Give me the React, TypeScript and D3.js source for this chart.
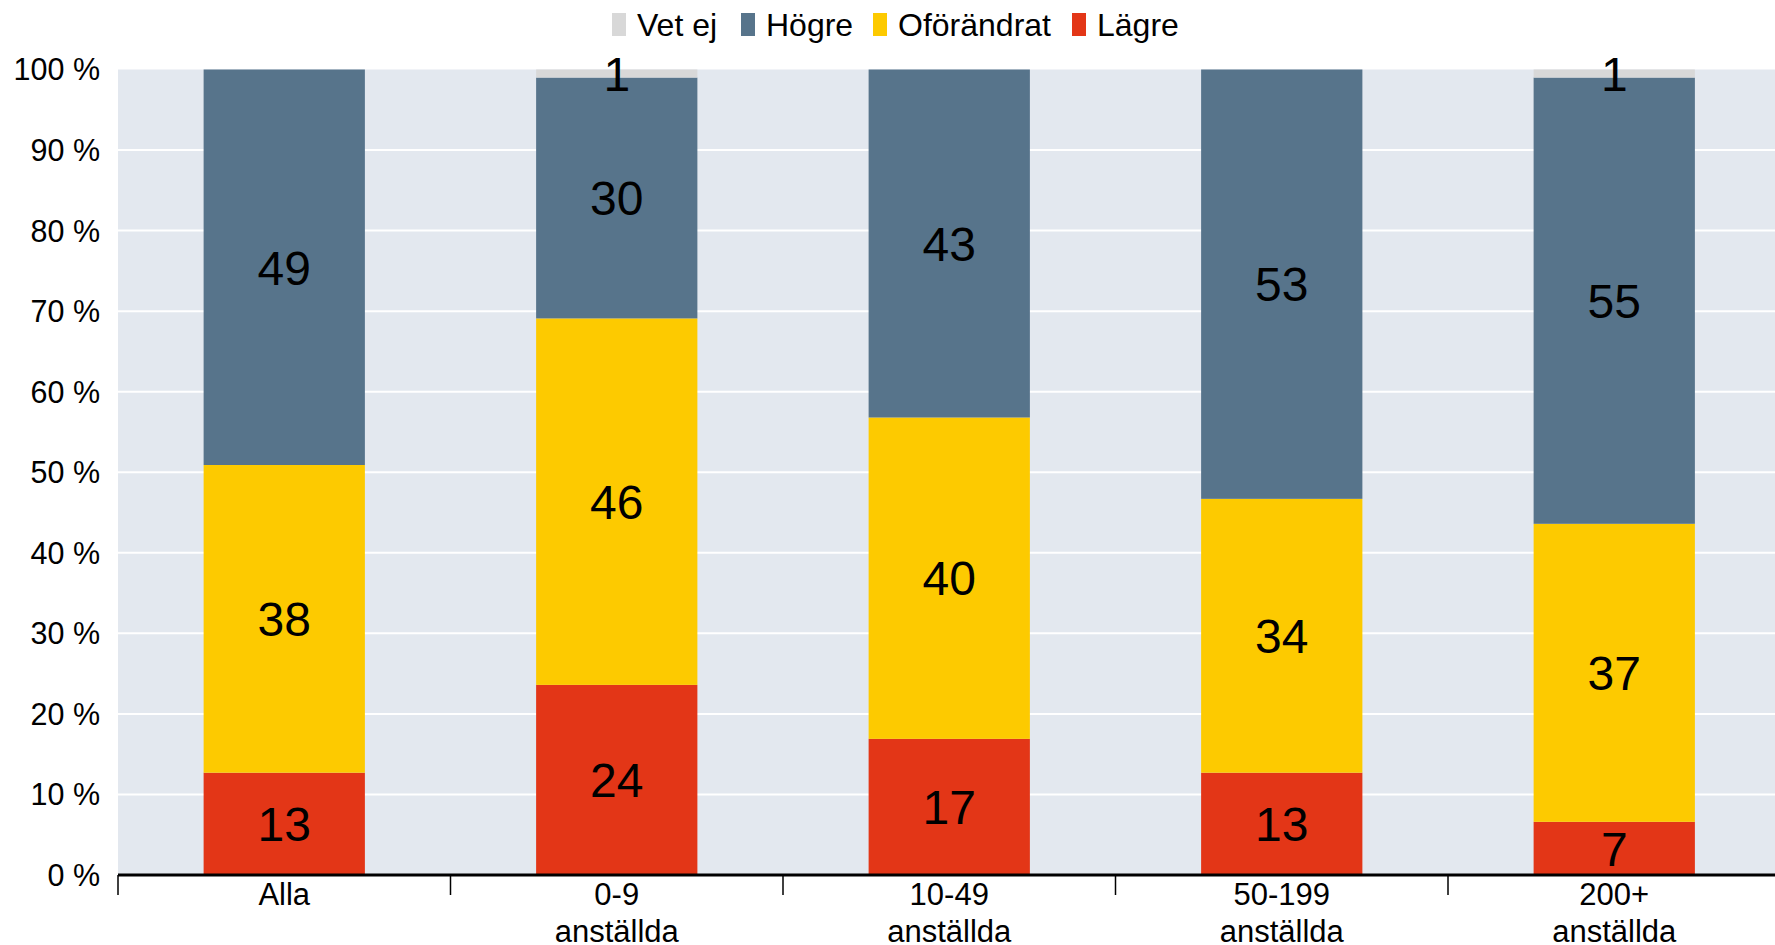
import React from "react";
import * as d3 from "d3";

const categories = ["Alla", "0-9 anställda", "10-49 anställda", "50-199 anställda", "200+ anställda"];
const seriesNames = ["Lägre", "Oförändrat", "Högre", "Vet ej"];
const lagre = [12.7, 23.6, 16.9, 12.7, 6.6];
const oforandrat = [38.2, 45.5, 39.9, 34.0, 37.0];
const hogre = [49.1, 29.9, 43.2, 53.3, 55.4];
const vetEj = [0, 1.0, 0, 0, 1.0];
const labelLagre = [13, 24, 17, 13, 7];
const labelOforandrat = [38, 46, 40, 34, 37];
const labelHogre = [49, 30, 43, 53, 55];
const labelVetEj = [null, 1, null, null, 1];
const yTicks = [0, 10, 20, 30, 40, 50, 60, 70, 80, 90, 100];
const legendOrder = ["Vet ej", "Högre", "Oförändrat", "Lägre"];

const colors: Record<string, string> = {
  "Vet ej": "#d8d8d8",
  "Högre": "#57748b",
  "Oförändrat": "#fdca00",
  "Lägre": "#e33617",
};

const W = 1775;
const H = 945;
const left = 118;
const top = 69.5;
const bottom = 875;
const step = 332.5;
const font = "'Liberation Sans', Arial, sans-serif";

export default function App() {
  const x = d3
    .scaleBand<string>()
    .domain(categories)
    .range([left, left + step * categories.length])
    .paddingInner(0)
    .paddingOuter(0);
  const y = d3.scaleLinear().domain([0, 100]).range([bottom, top]);
  const barW = x.bandwidth() * 0.485;

  const rows = categories.map((c, i) => ({
    cat: c,
    "Lägre": lagre[i],
    "Oförändrat": oforandrat[i],
    "Högre": hogre[i],
    "Vet ej": vetEj[i],
  }));
  const labels: Record<string, (number | null)[]> = {
    "Lägre": labelLagre,
    "Oförändrat": labelOforandrat,
    "Högre": labelHogre,
    "Vet ej": labelVetEj,
  };
  const stacked = d3.stack<any>().keys(seriesNames)(rows);

  const legendX = [612, 741, 873, 1072];

  return (
    <svg
      width={W}
      height={H}
      style={{ position: "absolute", left: 0, top: 0, background: "#fff" }}
      fontFamily={font}
    >
      <rect x={left} y={top} width={W - left} height={bottom - top} fill="#e3e8ef" />
      {yTicks
        .filter((t) => t > 0 && t < 100)
        .map((t) => (
          <line key={t} x1={left} x2={W} y1={y(t)} y2={y(t)} stroke="#fff" strokeWidth={2} />
        ))}
      {stacked.map((s) =>
        s.map((d, i) => {
          const cx = (x(categories[i]) as number) + x.bandwidth() / 2;
          const h = y(d[0]) - y(d[1]);
          if (h <= 0) return null;
          return (
            <rect
              key={s.key + i}
              x={cx - barW / 2}
              y={y(d[1])}
              width={barW}
              height={h}
              fill={colors[s.key]}
            />
          );
        })
      )}
      {stacked.map((s) =>
        s.map((d, i) => {
          const lab = labels[s.key][i];
          if (lab == null) return null;
          const cx = (x(categories[i]) as number) + x.bandwidth() / 2;
          const cy = (y(d[0]) + y(d[1])) / 2;
          return (
            <text
              key={"l" + s.key + i}
              x={cx}
              y={cy}
              dy="0.36em"
              textAnchor="middle"
              fontSize={48}
              fill="#000"
            >
              {lab}
            </text>
          );
        })
      )}
      {yTicks.map((t) => (
        <text key={"y" + t} x={100} y={y(t)} dy="0.36em" textAnchor="end" fontSize={30.5} fill="#000">
          {t} %
        </text>
      ))}
      <line x1={left} x2={W} y1={bottom} y2={bottom} stroke="#000" strokeWidth={3} />
      {categories.map((c, i) => (
        <line
          key={"t" + i}
          x1={(x(c) as number)}
          x2={(x(c) as number)}
          y1={bottom}
          y2={895}
          stroke="#000"
          strokeWidth={1.5}
        />
      ))}
      {categories.map((c) => {
        const cx = (x(c) as number) + x.bandwidth() / 2;
        const parts = c.split(" ");
        return (
          <text key={"c" + c} x={cx} textAnchor="middle" fontSize={31} fill="#000">
            {parts.map((p, j) => (
              <tspan key={j} x={cx} y={905 + j * 37}>
                {p}
              </tspan>
            ))}
          </text>
        );
      })}
      {legendOrder.map((k, i) => (
        <g key={"lg" + k}>
          <rect x={legendX[i]} y={13} width={14} height={23} fill={colors[k]} />
          <text x={legendX[i] + 25} y={24} dy="0.36em" fontSize={32} fill="#000">
            {k}
          </text>
        </g>
      ))}
    </svg>
  );
}
